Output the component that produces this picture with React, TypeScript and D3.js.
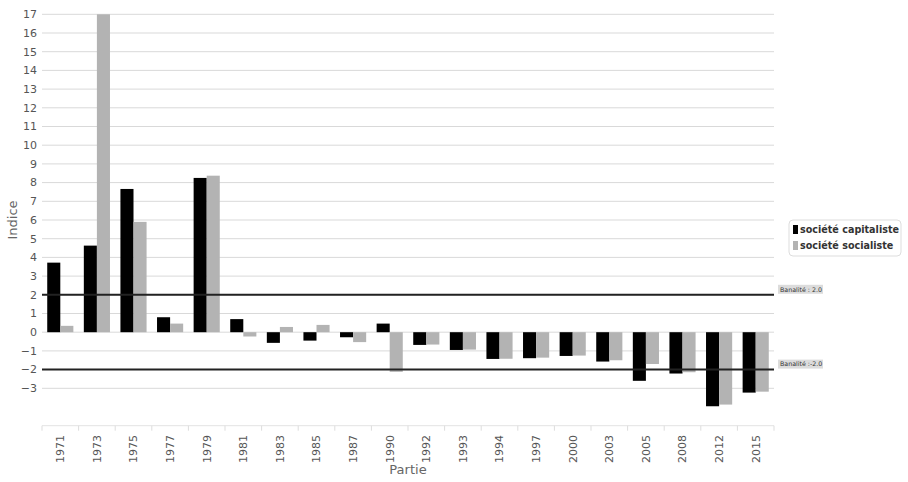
import React from "react";
import * as d3 from "d3";

const categories = ["1971","1973","1975","1977","1979","1981","1983","1985","1987","1990","1992","1993","1994","1997","2000","2003","2005","2008","2012","2015"];
const capitaliste = [3.72,4.63,7.66,0.8,8.25,0.7,-0.57,-0.45,-0.27,0.46,-0.68,-0.95,-1.43,-1.39,-1.27,-1.57,-2.6,-2.21,-3.96,-3.23];
const socialiste = [0.34,17,5.9,0.46,8.37,-0.23,0.28,0.39,-0.53,-2.12,-0.66,-0.93,-1.42,-1.36,-1.25,-1.5,-1.7,-2.14,-3.87,-3.18];
const seriesNames = ["société capitaliste","société socialiste"];
const seriesColors = ["#000000","#b3b3b3"];
const yTicks = d3.range(-3, 18);
const thresholds = [
  { value: 2, label: "Banalité : 2.0" },
  { value: -2, label: "Banalité :-2.0" },
];

const W = 908, H = 482;
const left = 42, right = 774, top = 14.3, bottom = 425.7;
const font = "'DejaVu Sans', Verdana, sans-serif";

export default function App() {
  const x = d3.scaleBand<string>().domain(categories).range([left, right]).paddingInner(0).paddingOuter(0);
  const y = d3.scaleLinear().domain([-5, 17]).range([bottom, top]);
  const inner = d3.scaleBand<number>().domain([0, 1]).range([0, x.bandwidth()]).paddingOuter(0.4).paddingInner(0);
  const data = [capitaliste, socialiste];
  return (
    <svg width={W} height={H} style={{ position: "absolute", left: 0, top: 0 }} fontFamily={font}>
      <rect x={0} y={0} width={W} height={H} fill="#fff" />
      {yTicks.map((t) => (
        <g key={t}>
          <line x1={left} x2={right} y1={y(t)} y2={y(t)} stroke="#d9d9d9" strokeWidth={1} />
          <text x={37} y={y(t)} dy="0.35em" textAnchor="end" fontSize={11} fill="#555">{t < 0 ? "\u2212" + Math.abs(t) : t}</text>
        </g>
      ))}
      <line x1={left} x2={right} y1={bottom} y2={bottom} stroke="#e3e3e3" strokeWidth={1} />
      {categories.concat([""]).map((c, i) => {
        const xx = left + i * x.step();
        return <line key={"t" + i} x1={xx} x2={xx} y1={bottom} y2={bottom + 5} stroke="#ddd" />;
      })}
      {data.map((arr, s) =>
        arr.map((v, i) => (
          <rect
            key={s + "-" + i}
            x={(x(categories[i]) as number) + (inner(s) as number)}
            width={inner.bandwidth()}
            y={y(Math.max(0, v))}
            height={Math.abs(y(v) - y(0))}
            fill={seriesColors[s]}
          />
        ))
      )}
      {thresholds.map((t) => (
        <g key={t.label}>
          <line x1={left} x2={right} y1={y(t.value)} y2={y(t.value)} stroke="#222" strokeWidth={2} />
          <rect x={778} y={y(t.value) - 10} width={45} height={9} fill="#dcdcdc" />
          <text x={780} y={y(t.value) - 5.5} dy="0.35em" fontSize={6.3} fill="#333">{t.label}</text>
        </g>
      ))}
      {categories.map((c) => (
        <text
          key={c}
          transform={`translate(${(x(c) as number) + x.bandwidth() / 2},435) rotate(-90)`}
          textAnchor="end"
          dy="0.35em"
          fontSize={11}
          fill="#555"
        >
          {c}
        </text>
      ))}
      <text x={408} y={474} textAnchor="middle" fontSize={13} fill="#666">Partie</text>
      <text transform={`translate(17,${(top + bottom) / 2}) rotate(-90)`} textAnchor="middle" fontSize={13} fill="#666">Indice</text>
      <g>
        <rect x={789} y={220} width={112} height={36} rx={4} fill="#fff" stroke="#ddd" />
        {seriesNames.map((n, i) => (
          <g key={n}>
            <rect x={793} y={225 + i * 16} width={5} height={9} fill={seriesColors[i]} />
            <text x={800} y={230 + i * 16} dy="0.35em" fontSize={9.6} fontWeight="bold" fill="#333">{n}</text>
          </g>
        ))}
      </g>
    </svg>
  );
}
